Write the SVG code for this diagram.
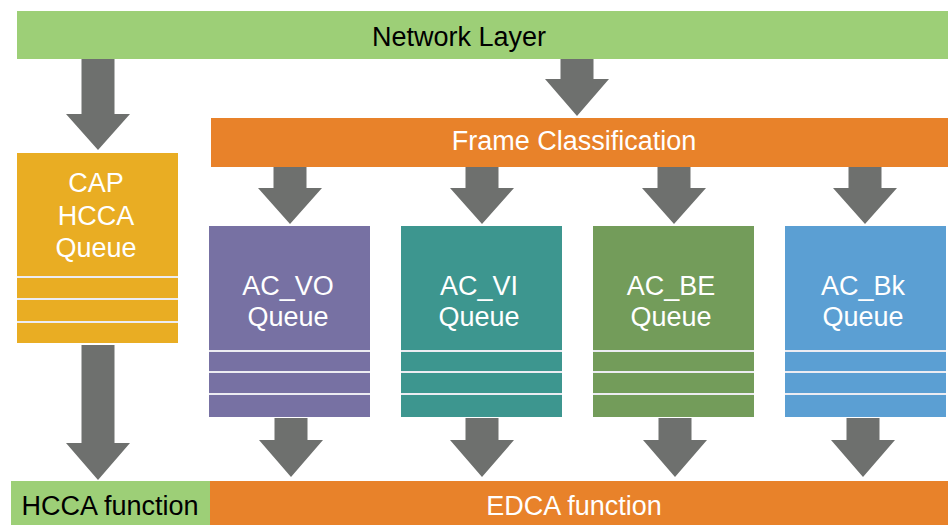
<svg xmlns="http://www.w3.org/2000/svg" width="948" height="525" viewBox="0 0 948 525">
<style>
  text { font-family: "Liberation Sans", Arial, sans-serif; font-size: 27px; text-anchor: middle; }
  .w { fill: #FFFFFF; }
  .k { fill: #000000; }
  .arrow { fill: #6E706E; }
  .div { stroke: #ECECF2; stroke-width: 2; }
</style>
<rect width="948" height="525" fill="#FFFFFF"/>

<g id="connectors">
  <path class="arrow" d="M81.5 59 H114.5 V114 H130 L98 150 L66 114 H81.5 Z"/>
  <path class="arrow" d="M560.5 59 H593.5 V79 H609 L577 116 L545 79 H560.5 Z"/>
  <path class="arrow" d="M273.5 167 H306.5 V188 H322 L290 224 L258 188 H273.5 Z"/>
  <path class="arrow" d="M465.5 167 H498.5 V188 H514 L482 224 L450 188 H465.5 Z"/>
  <path class="arrow" d="M657.5 167 H690.5 V188 H706 L674 224 L642 188 H657.5 Z"/>
  <path class="arrow" d="M848.5 167 H881.5 V188 H897 L865 224 L833 188 H848.5 Z"/>
  <path class="arrow" d="M81.5 345 H114.5 V443 H130 L98 480 L66 443 H81.5 Z"/>
  <path class="arrow" d="M274.5 418 H307.5 V440 H323 L291 477 L259 440 H274.5 Z"/>
  <path class="arrow" d="M465.5 418 H498.5 V440 H514 L482 477 L450 440 H465.5 Z"/>
  <path class="arrow" d="M658.5 418 H691.5 V440 H707 L675 477 L643 440 H658.5 Z"/>
  <path class="arrow" d="M846.5 418 H879.5 V440 H895 L863 477 L831 440 H846.5 Z"/>
</g>

<g id="network-layer">
  <rect x="17" y="11" width="931" height="48" fill="#9DCF77"/>
  <text class="k" x="459" y="46">Network Layer</text>
</g>

<g id="frame-classification">
  <rect x="211" y="118" width="737" height="49" fill="#E8822A"/>
  <text class="w" x="574" y="150">Frame Classification</text>
</g>

<g id="cap-hcca-queue">
  <rect x="17" y="153" width="161" height="190" fill="#E9AD23"/>
  <line class="div" x1="17" y1="277" x2="178" y2="277"/>
  <line class="div" x1="17" y1="299" x2="178" y2="299"/>
  <line class="div" x1="17" y1="322" x2="178" y2="322"/>
  <text class="w" x="96" y="192">CAP</text>
  <text class="w" x="96" y="224.5">HCCA</text>
  <text class="w" x="96" y="257">Queue</text>
</g>

<g id="ac-vo-queue">
  <rect x="209" y="226" width="161" height="191" fill="#7771A3"/>
  <line class="div" x1="209" y1="351" x2="370" y2="351"/>
  <line class="div" x1="209" y1="372" x2="370" y2="372"/>
  <line class="div" x1="209" y1="394" x2="370" y2="394"/>
  <text class="w" x="288" y="295">AC_VO</text>
  <text class="w" x="288" y="326">Queue</text>
</g>

<g id="ac-vi-queue">
  <rect x="401" y="226" width="161" height="191" fill="#3D968F"/>
  <line class="div" x1="401" y1="351" x2="562" y2="351"/>
  <line class="div" x1="401" y1="372" x2="562" y2="372"/>
  <line class="div" x1="401" y1="394" x2="562" y2="394"/>
  <text class="w" x="479" y="295">AC_VI</text>
  <text class="w" x="479" y="326">Queue</text>
</g>

<g id="ac-be-queue">
  <rect x="593" y="226" width="161" height="191" fill="#739C5A"/>
  <line class="div" x1="593" y1="351" x2="754" y2="351"/>
  <line class="div" x1="593" y1="372" x2="754" y2="372"/>
  <line class="div" x1="593" y1="394" x2="754" y2="394"/>
  <text class="w" x="671" y="295">AC_BE</text>
  <text class="w" x="671" y="326">Queue</text>
</g>

<g id="ac-bk-queue">
  <rect x="785" y="226" width="161" height="191" fill="#5B9FD3"/>
  <line class="div" x1="785" y1="351" x2="946" y2="351"/>
  <line class="div" x1="785" y1="372" x2="946" y2="372"/>
  <line class="div" x1="785" y1="394" x2="946" y2="394"/>
  <text class="w" x="863" y="295">AC_Bk</text>
  <text class="w" x="863" y="326">Queue</text>
</g>

<g id="hcca-function">
  <rect x="11" y="481" width="199" height="44" fill="#9DCF77"/>
  <text class="k" x="110" y="515">HCCA function</text>
</g>

<g id="edca-function">
  <rect x="210" y="481" width="738" height="44" fill="#E8822A"/>
  <text class="w" x="574" y="515">EDCA function</text>
</g>
</svg>
